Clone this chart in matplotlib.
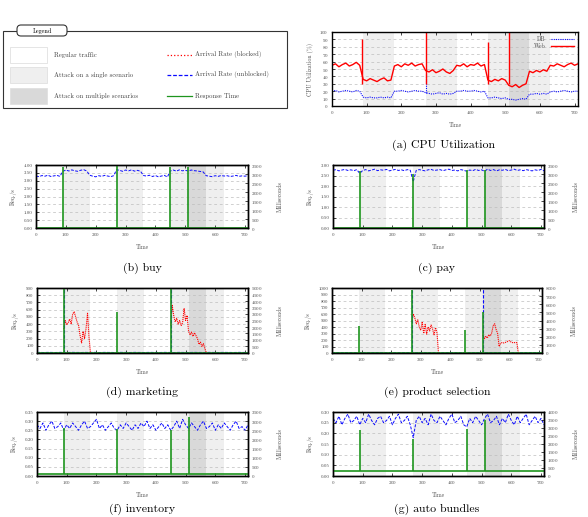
import numpy as np
import matplotlib.pyplot as plt
from matplotlib.patches import Rectangle, FancyBboxPatch
from matplotlib.lines import Line2D
from matplotlib.ticker import FormatStrFormatter, MultipleLocator

plt.rcParams['font.family'] = ['cmr10', 'DejaVu Serif']
plt.rcParams['axes.formatter.use_mathtext'] = True

W, H = 588, 517

# time grid (s)
t = np.arange(0, 711, 10)

single_attacks = [(90, 180), (270, 360), (450, 510), (570, 630)]
multi_attacks = [(510, 570)]
spike_t = [90, 270, 450, 510]

# (a) CPU utilisation
cpu_web = [55, 57, 53, 56, 58, 54, 56, 59, 55,
           36, 34, 37, 35, 33, 36, 38, 34, 35,
           54, 56, 53, 57, 55, 58, 54, 56, 57,
           48, 46, 49, 45, 47, 50, 46, 44, 48,
           55, 54, 57, 53, 56, 55, 58, 54, 56,
           35, 33, 36, 34, 37, 35,
           28, 26, 29, 25, 28, 30,
           47, 45, 48, 46, 49, 47,
           55, 54, 57, 55, 53, 56, 58, 55, 57]
cpu_db = [20, 21, 19, 20, 21, 20, 19, 21, 20,
          12, 11, 12, 11, 11, 12, 11, 12, 11,
          20, 20, 21, 20, 19, 20, 21, 20, 20,
          18, 17, 16, 17, 18, 16, 17, 16, 17,
          20, 20, 21, 20, 20, 21, 20, 19, 20,
          11, 11, 12, 11, 10, 11,
          9, 9, 8, 9, 10, 9,
          16, 16, 17, 16, 17, 16,
          19, 20, 19, 20, 21, 20, 19, 20, 20]
cpu_web_spike_t = [88, 270, 450, 510]
cpu_web_spike_v = [90, 100, 87, 100]
cpu_db_spike_t = [270]
cpu_db_spike_v = [45]

# (b) buy
buy_rate = [3.30, 3.26, 3.33, 3.29, 3.35, 3.27, 3.31, 3.34, 3.28,
            3.60, 3.68, 3.62, 3.69, 3.63, 3.60, 3.67, 3.70, 3.62,
            3.35, 3.29, 3.25, 3.32, 3.28, 3.34, 3.30, 3.26, 3.32,
            3.70, 3.66, 3.60, 3.68, 3.63, 3.69, 3.61, 3.66, 3.60,
            3.33, 3.30, 3.35, 3.27, 3.33, 3.25, 3.30, 3.34, 3.24,
            3.62, 3.68, 3.61, 3.69, 3.63, 3.66,
            3.62, 3.68, 3.64, 3.62, 3.59, 3.56,
            3.32, 3.29, 3.26, 3.32, 3.28, 3.33,
            3.30, 3.32, 3.27, 3.30, 3.34, 3.28, 3.31, 3.29, 3.33]
buy_resp_base = 15
buy_resp_spike = [3400, 3420, 3380, 3400]

# (c) pay
pay_rate = [2.75, 2.78, 2.72, 2.76, 2.79, 2.74, 2.77, 2.73, 2.78,
            2.60, 2.74, 2.78, 2.72, 2.76, 2.80, 2.73, 2.77, 2.75,
            2.79, 2.72, 2.76, 2.79, 2.74, 2.77, 2.73, 2.78, 2.75,
            2.20, 2.74, 2.78, 2.75, 2.72, 2.77, 2.79, 2.74, 2.76,
            2.78, 2.73, 2.77, 2.80, 2.74, 2.76, 2.72, 2.78, 2.75,
            2.70, 2.76, 2.73, 2.79, 2.74, 2.77,
            2.70, 2.80, 2.74, 2.78, 2.72, 2.77,
            2.75, 2.79, 2.73, 2.76, 2.80, 2.74,
            2.77, 2.73, 2.78, 2.75, 2.72, 2.77, 2.74, 2.79, 2.72]
pay_resp_base = 10
pay_resp_spike = [3150, 3000, 3200, 3250]

# (d) marketing
mkt_rate = [8, 9, 7, 8, 9, 8, 7, 8, 9,
            8, 7, 8, 9, 8, 8, 7, 9, 8,
            8, 9, 8, 7, 8, 9, 8, 8, 7,
            8, 9, 8, 8, 7, 8, 9, 8, 8,
            7, 8, 9, 8, 8, 7, 8, 9, 8,
            8, 7, 8, 9, 8, 8,
            7, 8, 9, 8, 8, 7,
            8, 9, 8, 8, 7, 8,
            9, 8, 8, 7, 8, 9, 8, 8, 7]
mkt_rate_spike_t = [90, 450]
mkt_rate_spike_v = [900, 900]
mkt_blk_t1 = np.arange(90, 181, 5)
mkt_blk_v1 = [330, 450, 390, 420, 470, 400, 540, 570, 500, 430,
              380, 240, 140, 300, 200, 340, 550, 220, 0]
mkt_blk_t2 = np.arange(450, 571, 5)
mkt_blk_v2 = [380, 660, 520, 430, 480, 400, 450, 380, 420, 620,
              450, 520, 300, 250, 290, 230, 280, 240, 200, 120,
              150, 90, 130, 60, 0]
mkt_resp_base = 30
mkt_resp_spike_t = [90, 270, 450]
mkt_resp_spike = [5000, 3150, 5000]

# (e) product selection
sel_rate = [5, 6, 5, 4, 5, 6, 5, 5, 4,
            5, 6, 5, 5, 4, 5, 6, 5, 5,
            4, 5, 6, 5, 5, 4, 5, 6, 5,
            5, 4, 5, 6, 5, 5, 4, 5, 6,
            5, 5, 4, 5, 6, 5, 5, 4, 5,
            6, 5, 5, 4, 5, 6,
            5, 5, 4, 5, 6, 5,
            5, 4, 5, 6, 5, 5,
            4, 5, 6, 5, 5, 4, 5, 6, 5]
sel_rate_spike_t = [270, 510]
sel_rate_spike_v = [970, 1000]
sel_blk_t1 = np.arange(270, 361, 5)
sel_blk_v1 = [480, 600, 540, 450, 510, 400, 350, 480, 300, 440,
              290, 400, 340, 430, 370, 280, 390, 310, 0]
sel_blk_t2 = np.arange(510, 631, 5)
sel_blk_v2 = [280, 220, 260, 230, 280, 260, 310, 420, 450, 360,
              300, 100, 150, 160, 155, 160, 170, 180, 190, 170,
              160, 160, 160, 160, 0]
sel_resp_base = 30
sel_resp_spike = [3360, 7700, 2800, 5100]

# (f) inventory
inv_rate = [0.28, 0.26, 0.29, 0.25, 0.28, 0.30, 0.26, 0.27, 0.29,
            0.25, 0.28, 0.26, 0.29, 0.27, 0.25, 0.28, 0.30, 0.26,
            0.27, 0.29, 0.31, 0.26, 0.28, 0.25, 0.27, 0.29, 0.26,
            0.25, 0.28, 0.26, 0.29, 0.27, 0.25, 0.28, 0.26, 0.29,
            0.27, 0.30, 0.26, 0.28, 0.25, 0.27, 0.29, 0.26, 0.28,
            0.25, 0.27, 0.30, 0.26, 0.31, 0.28, 0.26, 0.29, 0.27,
            0.25, 0.28, 0.30, 0.26, 0.27, 0.29, 0.25, 0.28, 0.26,
            0.29, 0.27, 0.25, 0.28, 0.30, 0.26, 0.27, 0.25, 0.28]
inv_resp_base = 130
inv_resp_spike = [2650, 2550, 2500, 3200]

# (g) auto bundles
bnd_rate = [0.27, 0.25, 0.28, 0.24, 0.27, 0.29, 0.25, 0.26, 0.28,
            0.24, 0.27, 0.25, 0.29, 0.26, 0.24, 0.27, 0.28, 0.25,
            0.26, 0.28, 0.24, 0.27, 0.29, 0.25, 0.26, 0.28, 0.24,
            0.18, 0.26, 0.28, 0.25, 0.27, 0.24, 0.29, 0.26, 0.25,
            0.28, 0.26, 0.24, 0.27, 0.29, 0.25, 0.26, 0.28, 0.24,
            0.23, 0.27, 0.25, 0.28, 0.26, 0.24, 0.27, 0.29, 0.25,
            0.26, 0.28, 0.24, 0.27, 0.25, 0.29, 0.26, 0.24, 0.28,
            0.25, 0.27, 0.29, 0.24, 0.26, 0.28, 0.25, 0.27, 0.24]
bnd_resp_base = 330
bnd_resp_spike = [2870, 2330, 2930, 3530]

RED = '#ff0000'
BLUE = '#0a0aff'
GREEN = '#1e951e'
LIGHT = '#efefef'
DARK = '#d9d9d9'
TXT = '#444444'
FS = 3.5


def box(x0, y0, x1, y1):
    return [x0 / W, 1 - y1 / H, (x1 - x0) / W, (y1 - y0) / H]


def style(ax):
    for s in ax.spines.values():
        s.set_linewidth(1.0)
    ax.tick_params(direction='in', length=2.5, width=0.5, labelsize=FS,
                   labelcolor=TXT, pad=2.5)


def shade(ax):
    for a, b in single_attacks:
        ax.axvspan(a, b, color=LIGHT, lw=0, zorder=0)
    for a, b in multi_attacks:
        ax.axvspan(a, b, color=DARK, lw=0, zorder=0)
    ax.yaxis.grid(True, ls=(0, (4, 4)), color='#bdbdbd', lw=0.5)
    ax.set_axisbelow(True)
    ax.set_xlim(0, 710)
    ax.xaxis.set_major_locator(MultipleLocator(100))
    ax.tick_params(top=True)


fig = plt.figure(figsize=(W / 100, H / 100), dpi=100)

# legend block
fig.add_artist(Rectangle((3 / W, 1 - 108 / H), 284 / W, 77 / H, transform=fig.transFigure,
                         fill=False, ec='#333333', lw=0.8))
fig.add_artist(FancyBboxPatch((0.17, (H - 36) / 100), 0.50, 0.11, transform=fig.dpi_scale_trans,
                              boxstyle='round,pad=0,rounding_size=0.04',
                              fc='white', ec='#333333', lw=0.8, zorder=3))
fig.text(42 / W, 1 - 30.5 / H, 'Legend', fontsize=4.5, ha='center', va='center',
         weight='bold', zorder=4)
swatches = [('white', 'Regular traffic'), (LIGHT, 'Attack on a single scenario'),
            (DARK, 'Attack on multiple scenarios')]
lines = [(RED, ':', 'Arrival Rate (blocked)'), (BLUE, (0, (3, 1.5)), 'Arrival Rate (unblocked)'),
         (GREEN, '-', 'Response Time')]
for i, y in enumerate([55, 75, 96]):
    fc, lab = swatches[i]
    fig.add_artist(Rectangle((10 / W, 1 - (y + 8) / H), 37 / W, 16 / H, transform=fig.transFigure,
                             fc=fc, ec='#e0e0e0', lw=0.6))
    fig.text(54 / W, 1 - y / H, lab, fontsize=4.8, va='center', color=TXT)
    c, ls, lab2 = lines[i]
    fig.add_artist(Line2D([167 / W, 192 / W], [1 - y / H] * 2, transform=fig.transFigure,
                          color=c, ls=ls, lw=0.9))
    fig.text(195 / W, 1 - y / H, lab2, fontsize=4.8, va='center', color=TXT)

# (a) CPU utilization
ax = fig.add_axes(box(332, 32, 578, 106))
shade(ax)
style(ax)
ax.plot(t, cpu_db, color=BLUE, ls=(0, (1, 1)), lw=0.8, label='DB')
ax.vlines(cpu_db_spike_t, 18, cpu_db_spike_v, color=BLUE, ls=(0, (1, 1)), lw=0.8)
ax.plot(t, cpu_web, color=RED, lw=1.0, label='Web')
ax.vlines(cpu_web_spike_t, 30, cpu_web_spike_v, color=RED, lw=1.0)
ax.set_ylim(0, 100)
ax.yaxis.set_major_locator(MultipleLocator(10))
ax.set_xlabel('Time', fontsize=4.2, color=TXT, labelpad=4)
ax.set_ylabel('CPU Utilization (%)', fontsize=4.2, color=TXT, labelpad=4)
ax.legend(loc='upper right', frameon=False, markerfirst=False, fontsize=4.2,
          handlelength=4, labelspacing=0.25, borderaxespad=0.3, labelcolor=TXT)
fig.text(443 / W, 1 - 145 / H, '(a) CPU Utilization', fontsize=8.5, ha='center', va='center')


def panel(bx, caption, cap_xy, rate, rlim, rstep, rfmt, base, spikes, mlim, mstep,
          spikes_t=spike_t, blocked=(), rate_spikes=None):
    ax = fig.add_axes(box(*bx))
    shade(ax)
    style(ax)
    ax.plot(t, rate, color=BLUE, ls=(0, (3, 1.5)), lw=0.7, zorder=3)
    for bt, bv in blocked:
        ax.plot(bt, bv, color=RED, ls=(0, (1, 0.8)), lw=0.8, zorder=3)
    if rate_spikes is not None:
        ax.vlines(rate_spikes[0], 0, rate_spikes[1], color=BLUE, ls=(0, (3, 1.5)), lw=0.8, zorder=3)
    ax.set_ylim(0, rlim)
    ax.yaxis.set_major_locator(MultipleLocator(rstep))
    ax.yaxis.set_major_formatter(FormatStrFormatter(rfmt))
    ax.set_xlabel('Time', fontsize=4.2, color=TXT, labelpad=4)
    ax.set_ylabel('Req./s', fontsize=4.2, color=TXT, labelpad=5)
    ax2 = ax.twinx()
    style(ax2)
    ax2.plot([0, 710], [base, base], color=GREEN, lw=1.2)
    ax2.vlines(spikes_t, base, spikes, color=GREEN, lw=1.2)
    ax2.set_ylim(0, mlim)
    ax2.yaxis.set_major_locator(MultipleLocator(mstep))
    ax2.set_ylabel('Milliseconds', fontsize=4.2, color=TXT, labelpad=10)
    fig.text(cap_xy[0] / W, 1 - cap_xy[1] / H, caption, fontsize=8.5, ha='center', va='center')


panel((36, 165, 248, 228), '(b) buy', (142, 268), buy_rate, 4.0, 0.5, '%.2f',
      buy_resp_base, buy_resp_spike, 3500, 500)
panel((333, 165, 544, 228), '(c) pay', (437, 268), pay_rate, 3.0, 0.5, '%.2f',
      pay_resp_base, pay_resp_spike, 3500, 500)
panel((37, 288, 248, 353), '(d) marketing', (142, 392), mkt_rate, 900, 100, '%d',
      mkt_resp_base, mkt_resp_spike, 5000, 500, spikes_t=mkt_resp_spike_t,
      blocked=[(mkt_blk_t1, mkt_blk_v1), (mkt_blk_t2, mkt_blk_v2)],
      rate_spikes=(mkt_rate_spike_t, mkt_rate_spike_v))
panel((332, 288, 542, 353), '(e) product selection', (437, 392), sel_rate, 1000, 100, '%d',
      sel_resp_base, sel_resp_spike, 8000, 1000,
      blocked=[(sel_blk_t1, sel_blk_v1), (sel_blk_t2, sel_blk_v2)],
      rate_spikes=(sel_rate_spike_t, sel_rate_spike_v))
panel((37, 412, 248, 476), '(f) inventory', (142, 509), inv_rate, 0.35, 0.05, '%.2f',
      inv_resp_base, inv_resp_spike, 3500, 500)
panel((333, 412, 544, 476), '(g) auto bundles', (437, 509), bnd_rate, 0.30, 0.05, '%.2f',
      bnd_resp_base, bnd_resp_spike, 4000, 500)

fig.savefig('out.png', dpi=100)
